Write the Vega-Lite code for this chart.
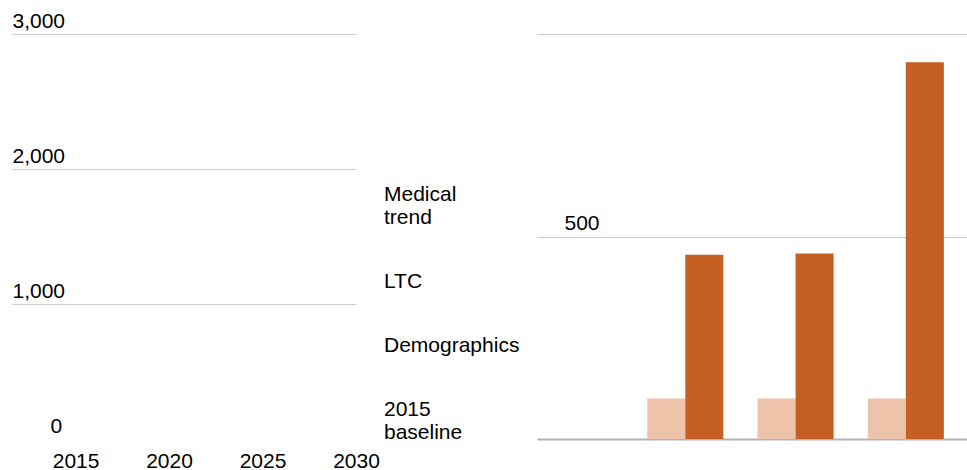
{
  "$schema": "https://vega.github.io/schema/vega-lite/v6.json",
  "padding": {"left": 12, "top": 10, "right": 0, "bottom": 8},
  "spacing": 181,
  "bounds": "flush",
  "resolve": {"scale": {"color": "independent"}, "legend": {"color": "independent"}},
  "config": {
    "font": "Liberation Sans",
    "view": {"stroke": null},
    "axis": {
      "labelFont": "Liberation Sans",
      "labelFontSize": 21,
      "labelColor": "#000000",
      "ticks": false,
      "tickSize": 0,
      "domain": false,
      "title": null,
      "gridColor": "#cccccc",
      "gridWidth": 1
    }
  },
  "hconcat": [
    {
      "width": 344,
      "height": 405,
      "data": {
        "values": [
          {"category": "Medical trend", "year": null, "value": null},
          {"category": "LTC", "year": null, "value": null},
          {"category": "Demographics", "year": null, "value": null},
          {"category": "2015 baseline", "year": null, "value": null}
        ]
      },
      "mark": {"type": "area"},
      "encoding": {
        "x": {
          "field": "year",
          "type": "quantitative",
          "scale": {"domain": [2011.6, 2030], "nice": false, "zero": false},
          "axis": {
            "values": [2015, 2020, 2025, 2030],
            "format": "d",
            "grid": false,
            "labelBaseline": "alphabetic",
            "labelPadding": 28,
            "labelFlush": false
          }
        },
        "y": {
          "field": "value",
          "type": "quantitative",
          "scale": {"domain": [0, 3000], "nice": false},
          "axis": {
            "values": [0, 1000, 2000, 3000],
            "format": ",d",
            "grid": true,
            "gridOpacity": {"condition": {"test": "datum.value == 0", "value": 0}, "value": 1},
            "labelAlign": "left",
            "labelBaseline": "alphabetic",
            "labelOffset": -7,
            "labelPadding": {"condition": {"test": "datum.value == 0", "value": -38}, "value": 0}
          }
        },
        "color": {
          "field": "category",
          "type": "nominal",
          "scale": {
            "domain": ["Medical trend", "LTC", "Demographics", "2015 baseline"],
            "range": ["#C55F22", "#DA8A55", "#E6A97E", "#EDC4A9"]
          },
          "legend": {
            "orient": "none",
            "legendX": 351,
            "legendY": 150,
            "title": null,
            "padding": 0,
            "symbolSize": 0,
            "symbolOpacity": 0,
            "symbolStrokeWidth": 0,
            "labelFont": "Liberation Sans",
            "labelFontSize": 21,
            "labelColor": "#000000",
            "labelOffset": 0,
            "labelLimit": 300,
            "rowPadding": 42,
            "labelExpr": "split(datum.label, ' ')"
          }
        }
      }
    },
    {
      "width": 430,
      "height": 405,
      "data": {
        "values": [
          {"year": "2020", "series": "2015 baseline", "value": 100},
          {"year": "2020", "series": "Growth", "value": 455},
          {"year": "2025", "series": "2015 baseline", "value": 100},
          {"year": "2025", "series": "Growth", "value": 458},
          {"year": "2030", "series": "2015 baseline", "value": 100},
          {"year": "2030", "series": "Growth", "value": 930}
        ]
      },
      "mark": {"type": "bar"},
      "encoding": {
        "x": {
          "field": "year",
          "type": "nominal",
          "scale": {"domain": ["2015", "2020", "2025", "2030"], "paddingInner": 0.31, "paddingOuter": 0.105, "align": 0},
          "axis": {"labels": false, "ticks": false, "domain": true, "domainColor": "#b3b3b3", "domainWidth": 2, "title": null}
        },
        "xOffset": {
          "field": "series",
          "type": "nominal",
          "scale": {"domain": ["2015 baseline", "Growth"], "paddingInner": 0, "paddingOuter": 0}
        },
        "y": {
          "field": "value",
          "type": "quantitative",
          "scale": {"domain": [0, 1000], "nice": false},
          "axis": {
            "values": [0, 500, 1000],
            "grid": true,
            "labelExpr": "datum.value == 500 ? '500' : ''",
            "labelAlign": "left",
            "labelBaseline": "alphabetic",
            "labelOffset": -7,
            "labelPadding": -27
          }
        },
        "color": {
          "field": "series",
          "type": "nominal",
          "scale": {"domain": ["2015 baseline", "Growth"], "range": ["#EDC4A9", "#C55F22"]},
          "legend": null
        }
      }
    }
  ]
}
